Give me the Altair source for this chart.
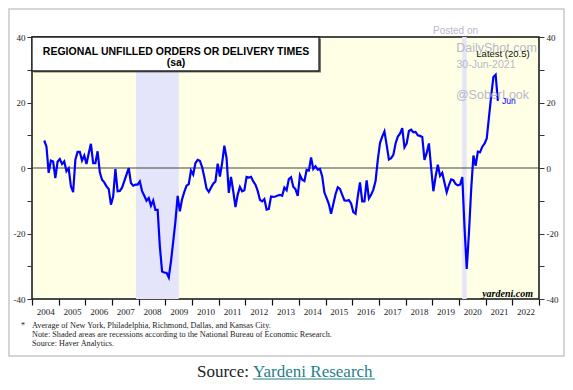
import altair as alt
import pandas as pd

# ---- data (monthly, Jun 2004 .. Jun 2021) ----
START_YEAR, START_MONTH = 2004, 6
unfilled = [
    # 2004 Jun-Dec
    8.4, 6.6, -1.5, 2.3, 2.0, -3.1, 1.9,
    # 2005
    2.7, 1.2, 2.0, -1.0, -0.1, -5.6, -7.4, 2.5, 4.9, 4.9, 2.3, 3.8,
    # 2006
    1.2, 4.4, 7.4, 1.5, 1.5, 5.1, -1.3, -3.6, -4.4, -5.6, -6.4, -11.2,
    # 2007
    -8.7, -0.3, -7.1, -7.0, -6.0, -4.0, -2.0, 0.0, -4.6, -5.4, -5.1, -5.1,
    # 2008
    -4.1, -7.1, -8.5, -10.0, -9.2, -11.5, -9.9, -12.8, -12.8, -24.0, -31.6, -31.9,
    # 2009
    -32.0, -33.4, -28.5, -22.5, -16.3, -8.5, -13.2, -9.5, -7.3, -5.4, -4.9, -0.8,
    # 2010
    -2.0, 1.5, 2.5, 2.2, 0.3, -2.8, -6.3, -7.3, -6.0, -4.8, -4.1, 1.3,
    # 2011
    -2.6, 1.5, 6.8, 3.0, -7.6, -2.7, -7.1, -11.9, -8.2, -5.8, -7.1, -6.8,
    # 2012
    -2.7, -2.9, -2.7, -4.1, -5.1, -7.0, -9.7, -10.2, -9.5, -12.7, -12.5, -8.7,
    # 2013
    -8.8, -8.7, -8.4, -8.2, -8.5, -6.0, -6.8, -3.4, -2.8, -5.7, -6.5, -8.5,
    # 2014
    -2.2, -3.6, -4.0, -0.6, -0.8, 3.2, -0.3, 0.5, -0.5, -0.3, -2.5, -7.5,
    # 2015
    -9.2, -11.0, -14.0, -11.0, -8.0, -5.9, -6.4, -8.2, -9.9, -10.0, -9.8, -10.8,
    # 2016
    -13.5, -14.0, -8.7, -4.4, -10.2, -10.2, -3.8, -9.3, -8.2, -6.6, -4.0, 2.5,
    # 2017
    7.6, 9.6, 11.2, 7.0, 2.6, 3.0, 4.0, 7.5, 9.6, 10.5, 12.2, 6.3,
    # 2018
    7.5, 11.3, 11.7, 10.9, 11.0, 10.0, 9.8, 9.5, 2.5, 4.6, 7.5, 0.0,
    # 2019
    -7.1, -2.6, 1.0, -2.4, -1.5, -4.5, -7.4, -5.2, -3.5, -3.7, -4.9, -5.3,
    # 2020
    -5.1, -2.8, -18.0, -30.8, -19.8, -6.6, 3.8, 0.7, 5.0, 4.8, 6.5, 7.4,
    # 2021 Jan-Jun
    9.0, 15.5, 22.0, 27.8, 28.5, 20.5,
]
year_ticks = list(range(2004, 2024))
y_ticks = [-40, -30, -20, -10, 0, 10, 20, 30, 40]
recession_start = [2007.9, 2020.12]
recession_end = [2009.5, 2020.29]

dates = []
for k in range(len(unfilled)):
    m = START_MONTH - 1 + k
    dates.append(START_YEAR + m // 12 + ((m % 12) + 0.5) / 12)
df = pd.DataFrame({"t": dates, "v": unfilled})
rec = pd.DataFrame({"start": recession_start, "end": recession_end})
zero = pd.DataFrame({"z": [0]})

W, H = 507, 262
SERIF = "Liberation Serif"
SANS = "Liberation Sans"

xscale = alt.Scale(domain=[2004, 2023], nice=False, zero=False)
yscale = alt.Scale(domain=[-40, 40], nice=False, zero=False)

x_axis = alt.Axis(
    values=year_ticks, format="d", title=None, grid=False, domain=False,
    labelExpr="datum.value == 2023 ? '' : '' + datum.value",
    labelOffset=13.3, labelFlush=False, labelOverlap=False, labelBound=False,
    labelFont=SERIF, labelFontSize=9, labelColor="#222", labelPadding=2,
    tickSize=6, tickColor="#111", tickWidth=1.2,
)


def y_axis(orient):
    return alt.Axis(
        orient=orient, values=y_ticks, title=None, grid=False, domain=False,
        labelExpr="datum.value % 20 == 0 ? '' + datum.value : ''",
        labelFont=SERIF, labelFontSize=9, labelColor="#222", labelPadding=2,
        tickSize=5, tickColor="#333", labelFlush=False, labelOverlap=False,
    )


bands = alt.Chart(rec).mark_rect(color="#E4E4FA").encode(
    x=alt.X("start:Q", scale=xscale, axis=x_axis),
    x2="end:Q",
    y=alt.value(0),
    y2=alt.value(H),
)

zero_line = alt.Chart(zero).mark_rule(color="#444", strokeWidth=1.2).encode(
    y=alt.Y("z:Q", scale=yscale, axis=y_axis("right")),
)

line = alt.Chart(df).mark_line(color="#0000FF", strokeWidth=2.2).encode(
    x=alt.X("t:Q", scale=xscale, axis=x_axis),
    y=alt.Y("v:Q", scale=yscale, axis=y_axis("left")),
)


def label(text, x, y, size, color="#000", font=SANS, weight="normal",
          align="center", style="normal"):
    return alt.Chart(pd.DataFrame({"s": [text]})).mark_text(
        align=align, baseline="alphabetic", fontSize=size, font=font,
        fontWeight=weight, fontStyle=style, color=color,
    ).encode(x=alt.value(x), y=alt.value(y), text="s:N")


# outer frame and title box
frame = alt.Chart(zero).mark_rect(
    fill="transparent", stroke="#C8C8C8", strokeWidth=1.5
).encode(x=alt.value(-23), x2=alt.value(532), y=alt.value(-28), y2=alt.value(319))

title_shadow = alt.Chart(zero).mark_rect(fill="#777").encode(
    x=alt.value(1.5), x2=alt.value(289), y=alt.value(1.5), y2=alt.value(35.5)
)
title_box = alt.Chart(zero).mark_rect(
    fill="white", stroke="#222", strokeWidth=1.3
).encode(x=alt.value(0), x2=alt.value(287), y=alt.value(0), y2=alt.value(34))

WM = "#B8B8C8"
NOTE = "#222"
texts = [
    label("REGIONAL UNFILLED ORDERS OR DELIVERY TIMES", 144, 17.5, 10.5, weight="bold"),
    label("(sa)", 144, 28.5, 10.5, weight="bold"),
    label("Posted on", 423.5, -3, 10, color=WM),
    label("DailyShot.com", 464.5, 15, 12.5, color=WM),
    label("30-Jun-2021", 454, 31, 10.5, color=WM),
    label("@SoberLook", 460.5, 62, 12.5, color=WM),
    label("Latest (20.5)", 471, 20, 9.5, color="#111"),
    label("Jun", 470, 67, 8.5, color="#0000FF", align="left"),
    label("yardeni.com", 501, 260, 10, font=SERIF, weight="bold", style="italic", align="right"),
    label("*", -9, 291, 8.2, font=SERIF, color=NOTE),
    label("Average of New York, Philadelphia, Richmond, Dallas, and Kansas City.",
          0, 291, 8.2, font=SERIF, color=NOTE, align="left"),
    label("Note: Shaded areas are recessions according to the National Bureau of Economic Research.",
          0, 300, 8.2, font=SERIF, color=NOTE, align="left"),
    label("Source: Haver Analytics.", 0, 309, 8.2, font=SERIF, color=NOTE, align="left"),
    label("Source:", 165, 340, 17, font=SERIF, color="#222", align="left"),
    label("Yardeni Research", 221, 340, 17, font=SERIF, color="#1F8088", align="left"),
]
underline = alt.Chart(zero).mark_rule(color="#1F8088", strokeWidth=1).encode(
    x=alt.value(221), x2=alt.value(343), y=alt.value(342)
)

chart = alt.layer(
    bands, zero_line, line, frame, title_shadow, title_box, *texts, underline
).resolve_axis(y="independent").properties(
    width=W, height=H,
    autosize=alt.AutoSizeParams(type="none"),
    padding={"left": 24, "top": 29, "right": 26, "bottom": 83},
    background="white",
).configure_view(
    fill="#FFFFE6", stroke="#111", strokeWidth=1.5
)

chart.save("out.html", embed_options={"renderer": "svg", "actions": False})
